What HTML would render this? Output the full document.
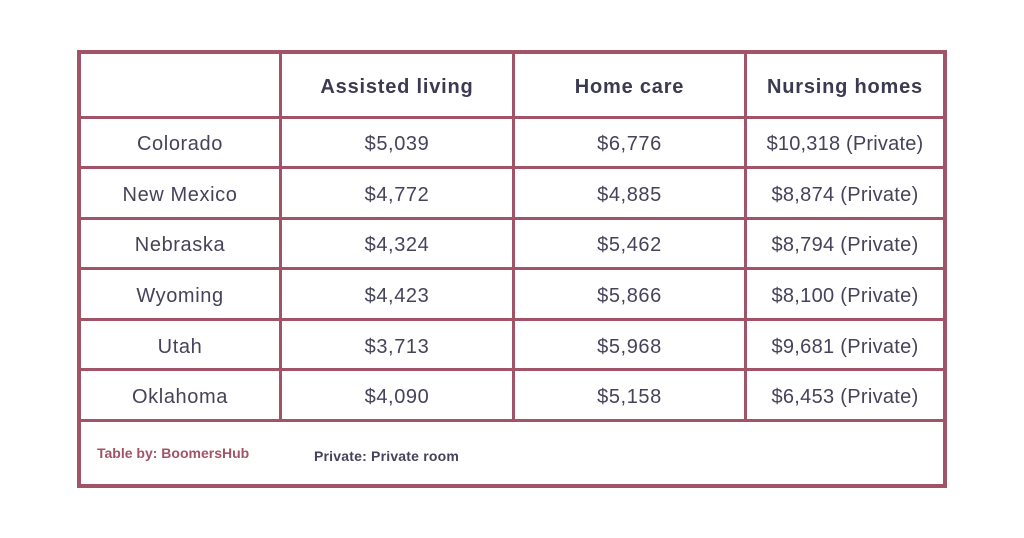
<!DOCTYPE html>
<html><head><style>
body{margin:0;width:1024px;height:538px;background:#fff;position:relative;font-family:"Liberation Sans",sans-serif;overflow:hidden}
.l{position:absolute;background:#a15468}
.t{position:absolute;color:#45435a;font-size:20px;letter-spacing:0.6px;text-align:center;line-height:20px;white-space:nowrap}
.h{font-weight:bold;font-size:20px;letter-spacing:0.8px;color:#3c3a50}
</style></head><body>
<div class="l" style="left:77px;top:50px;width:870px;height:4px"></div>
<div class="l" style="left:77px;top:484px;width:870px;height:4px"></div>
<div class="l" style="left:77px;top:50px;width:4px;height:438px"></div>
<div class="l" style="left:943px;top:50px;width:4px;height:438px"></div>
<div class="l" style="left:279px;top:50px;width:3px;height:371px"></div>
<div class="l" style="left:512px;top:50px;width:3px;height:371px"></div>
<div class="l" style="left:744px;top:50px;width:3px;height:371px"></div>
<div class="l" style="left:77px;top:116px;width:870px;height:3px"></div>
<div class="l" style="left:77px;top:166px;width:870px;height:3px"></div>
<div class="l" style="left:77px;top:217px;width:870px;height:3px"></div>
<div class="l" style="left:77px;top:267px;width:870px;height:3px"></div>
<div class="l" style="left:77px;top:318px;width:870px;height:3px"></div>
<div class="l" style="left:77px;top:368px;width:870px;height:3px"></div>
<div class="l" style="left:77px;top:419px;width:870px;height:3px"></div>

<div class="t h" style="left:282px;top:77px;width:230px">Assisted living</div>
<div class="t h" style="left:515px;top:77px;width:229px">Home care</div>
<div class="t h" style="left:747px;top:77px;width:196px">Nursing homes</div>

<div class="t" style="left:81px;top:134px;width:198px">Colorado</div>
<div class="t" style="left:282px;top:134px;width:230px">$5,039</div>
<div class="t" style="left:515px;top:134px;width:229px">$6,776</div>
<div class="t" style="left:747px;top:134px;width:196px;letter-spacing:0.2px">$10,318 (Private)</div>

<div class="t" style="left:81px;top:185px;width:198px">New Mexico</div>
<div class="t" style="left:282px;top:185px;width:230px">$4,772</div>
<div class="t" style="left:515px;top:185px;width:229px">$4,885</div>
<div class="t" style="left:747px;top:185px;width:196px;letter-spacing:0.3px">$8,874 (Private)</div>

<div class="t" style="left:81px;top:235px;width:198px">Nebraska</div>
<div class="t" style="left:282px;top:235px;width:230px">$4,324</div>
<div class="t" style="left:515px;top:235px;width:229px">$5,462</div>
<div class="t" style="left:747px;top:235px;width:196px;letter-spacing:0.3px">$8,794 (Private)</div>

<div class="t" style="left:81px;top:286px;width:198px">Wyoming</div>
<div class="t" style="left:282px;top:286px;width:230px">$4,423</div>
<div class="t" style="left:515px;top:286px;width:229px">$5,866</div>
<div class="t" style="left:747px;top:286px;width:196px;letter-spacing:0.3px">$8,100 (Private)</div>

<div class="t" style="left:81px;top:337px;width:198px">Utah</div>
<div class="t" style="left:282px;top:337px;width:230px">$3,713</div>
<div class="t" style="left:515px;top:337px;width:229px">$5,968</div>
<div class="t" style="left:747px;top:337px;width:196px;letter-spacing:0.3px">$9,681 (Private)</div>

<div class="t" style="left:81px;top:387px;width:198px">Oklahoma</div>
<div class="t" style="left:282px;top:387px;width:230px">$4,090</div>
<div class="t" style="left:515px;top:387px;width:229px">$5,158</div>
<div class="t" style="left:747px;top:387px;width:196px;letter-spacing:0.3px">$6,453 (Private)</div>

<div style="position:absolute;left:97px;top:445px;font-size:14px;font-weight:bold;color:#a15468">Table by: BoomersHub</div>
<div style="position:absolute;left:314px;top:448px;font-size:14px;font-weight:bold;color:#45435a;letter-spacing:0.2px">Private: Private room</div>
</body></html>
